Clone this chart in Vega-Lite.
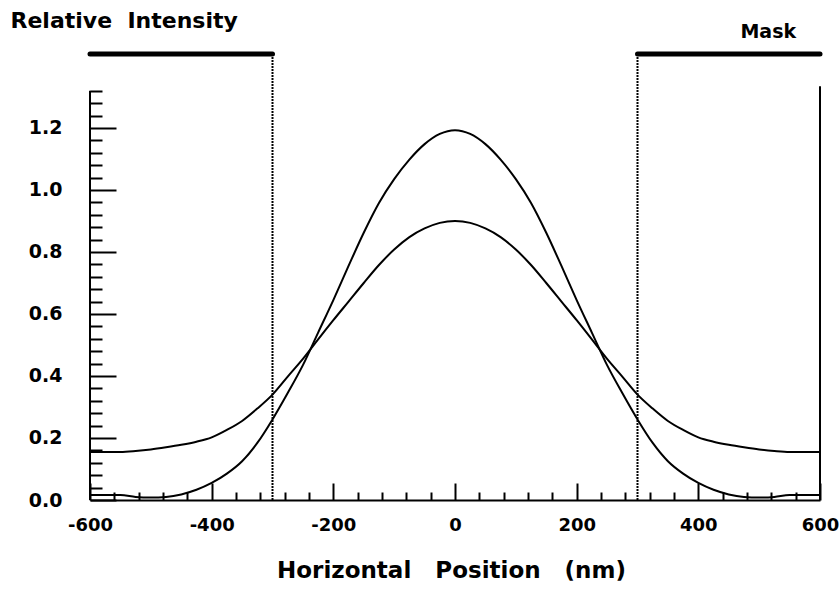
{
  "$schema": "https://vega.github.io/schema/vega-lite/v6.json",
  "width": 730,
  "height": 446,
  "autosize": {"type": "none"},
  "padding": {"left": 90, "top": 54, "right": 20, "bottom": 92},
  "background": "white",
  "config": {"view": {"stroke": null}},
  "layer": [
    {
      "data": {"values": [
        {"x": -600, "v": 0.155, "s": "A"}, {"x": -575, "v": 0.155, "s": "A"}, {"x": -550, "v": 0.155, "s": "A"}, {"x": -525, "v": 0.158, "s": "A"},
        {"x": -500, "v": 0.163, "s": "A"}, {"x": -475, "v": 0.170, "s": "A"}, {"x": -450, "v": 0.178, "s": "A"}, {"x": -425, "v": 0.188, "s": "A"},
        {"x": -400, "v": 0.202, "s": "A"}, {"x": -375, "v": 0.226, "s": "A"}, {"x": -350, "v": 0.255, "s": "A"}, {"x": -325, "v": 0.295, "s": "A"},
        {"x": -300, "v": 0.340, "s": "A"}, {"x": -275, "v": 0.398, "s": "A"}, {"x": -250, "v": 0.455, "s": "A"}, {"x": -225, "v": 0.518, "s": "A"},
        {"x": -200, "v": 0.580, "s": "A"}, {"x": -175, "v": 0.640, "s": "A"}, {"x": -150, "v": 0.700, "s": "A"}, {"x": -125, "v": 0.758, "s": "A"},
        {"x": -100, "v": 0.808, "s": "A"}, {"x": -75, "v": 0.848, "s": "A"}, {"x": -50, "v": 0.876, "s": "A"}, {"x": -25, "v": 0.894, "s": "A"},
        {"x": 0, "v": 0.900, "s": "A"},
        {"x": 25, "v": 0.894, "s": "A"}, {"x": 50, "v": 0.876, "s": "A"}, {"x": 75, "v": 0.848, "s": "A"}, {"x": 100, "v": 0.808, "s": "A"},
        {"x": 125, "v": 0.758, "s": "A"}, {"x": 150, "v": 0.700, "s": "A"}, {"x": 175, "v": 0.640, "s": "A"}, {"x": 200, "v": 0.580, "s": "A"},
        {"x": 225, "v": 0.518, "s": "A"}, {"x": 250, "v": 0.455, "s": "A"}, {"x": 275, "v": 0.398, "s": "A"}, {"x": 300, "v": 0.340, "s": "A"},
        {"x": 325, "v": 0.295, "s": "A"}, {"x": 350, "v": 0.255, "s": "A"}, {"x": 375, "v": 0.226, "s": "A"}, {"x": 400, "v": 0.202, "s": "A"},
        {"x": 425, "v": 0.188, "s": "A"}, {"x": 450, "v": 0.178, "s": "A"}, {"x": 475, "v": 0.170, "s": "A"}, {"x": 500, "v": 0.163, "s": "A"},
        {"x": 525, "v": 0.158, "s": "A"}, {"x": 550, "v": 0.155, "s": "A"}, {"x": 575, "v": 0.155, "s": "A"}, {"x": 600, "v": 0.155, "s": "A"},
        {"x": -600, "v": 0.016, "s": "B"}, {"x": -575, "v": 0.016, "s": "B"}, {"x": -550, "v": 0.016, "s": "B"}, {"x": -525, "v": 0.010, "s": "B"},
        {"x": -500, "v": 0.008, "s": "B"}, {"x": -475, "v": 0.010, "s": "B"}, {"x": -450, "v": 0.018, "s": "B"}, {"x": -425, "v": 0.033, "s": "B"},
        {"x": -400, "v": 0.055, "s": "B"}, {"x": -375, "v": 0.085, "s": "B"}, {"x": -350, "v": 0.125, "s": "B"}, {"x": -325, "v": 0.184, "s": "B"},
        {"x": -300, "v": 0.260, "s": "B"}, {"x": -275, "v": 0.345, "s": "B"}, {"x": -250, "v": 0.435, "s": "B"}, {"x": -225, "v": 0.540, "s": "B"},
        {"x": -200, "v": 0.645, "s": "B"}, {"x": -175, "v": 0.755, "s": "B"}, {"x": -150, "v": 0.862, "s": "B"}, {"x": -125, "v": 0.958, "s": "B"},
        {"x": -100, "v": 1.035, "s": "B"}, {"x": -75, "v": 1.098, "s": "B"}, {"x": -50, "v": 1.148, "s": "B"}, {"x": -25, "v": 1.181, "s": "B"},
        {"x": 0, "v": 1.193, "s": "B"},
        {"x": 25, "v": 1.181, "s": "B"}, {"x": 50, "v": 1.148, "s": "B"}, {"x": 75, "v": 1.098, "s": "B"}, {"x": 100, "v": 1.035, "s": "B"},
        {"x": 125, "v": 0.958, "s": "B"}, {"x": 150, "v": 0.862, "s": "B"}, {"x": 175, "v": 0.755, "s": "B"}, {"x": 200, "v": 0.645, "s": "B"},
        {"x": 225, "v": 0.540, "s": "B"}, {"x": 250, "v": 0.435, "s": "B"}, {"x": 275, "v": 0.345, "s": "B"}, {"x": 300, "v": 0.260, "s": "B"},
        {"x": 325, "v": 0.184, "s": "B"}, {"x": 350, "v": 0.125, "s": "B"}, {"x": 375, "v": 0.085, "s": "B"}, {"x": 400, "v": 0.055, "s": "B"},
        {"x": 425, "v": 0.033, "s": "B"}, {"x": 450, "v": 0.018, "s": "B"}, {"x": 475, "v": 0.010, "s": "B"}, {"x": 500, "v": 0.008, "s": "B"},
        {"x": 525, "v": 0.010, "s": "B"}, {"x": 550, "v": 0.016, "s": "B"}, {"x": 575, "v": 0.016, "s": "B"}, {"x": 600, "v": 0.016, "s": "B"}
      ]},
      "mark": {"type": "line", "color": "black", "strokeWidth": 2, "interpolate": "monotone"},
      "encoding": {
        "x": {
          "field": "x", "type": "quantitative",
          "scale": {"domain": [-600, 600], "nice": false, "zero": false},
          "axis": {
            "values": [-600,-560,-520,-480,-440,-400,-360,-320,-280,-240,-200,-160,-120,-80,-40,0,40,80,120,160,200,240,280,320,360,400,440,480,520,560,600],
            "tickCount": 200,
            "tickSize": {"condition": {"test": "datum.value % 200 === 0", "value": -17}, "value": -8},
            "tickWidth": 2, "tickColor": "black",
            "domainWidth": 2, "domainColor": "black",
            "grid": false,
            "labelExpr": "datum.value % 200 === 0 ? '' + datum.value : ''",
            "labelFont": "DejaVu Sans", "labelFontWeight": "bold", "labelFontSize": 18, "labelColor": "black",
            "labelPadding": 33, "labelFlush": false, "labelOverlap": false,
            "title": "Horizontal\u00a0\u00a0\u00a0Position\u00a0\u00a0\u00a0(nm)",
            "titleFont": "DejaVu Sans", "titleFontWeight": "bold", "titleFontSize": 23, "titleColor": "black",
            "titleBaseline": "alphabetic", "titleY": 77, "titleX": 361
          }
        },
        "y": {
          "field": "v", "type": "quantitative",
          "scale": {"domain": [0, 1.4387], "nice": false, "zero": false},
          "axis": {
            "values": [0,0.04,0.08,0.12,0.16,0.2,0.24,0.28,0.32,0.36,0.4,0.44,0.48,0.52,0.56,0.6,0.64,0.68,0.72,0.76,0.8,0.84,0.88,0.92,0.96,1.0,1.04,1.08,1.12,1.16,1.2,1.24,1.28,1.32],
            "tickCount": 200,
            "tickSize": {"condition": {"test": "abs(datum.value*5 - round(datum.value*5)) < 0.01", "value": -26}, "value": -12},
            "tickWidth": 2, "tickColor": "black",
            "domain": false, "grid": false,
            "labelExpr": "abs(datum.value*5 - round(datum.value*5)) < 0.01 ? format(datum.value, '.1f') : ''",
            "labelFont": "DejaVu Sans", "labelFontWeight": "bold", "labelFontSize": 19, "labelColor": "black",
            "labelPadding": 54, "labelFlush": false, "labelOverlap": false,
            "title": "Relative\u00a0\u00a0Intensity",
            "titleFont": "DejaVu Sans", "titleFontWeight": "bold", "titleFontSize": 22, "titleColor": "black",
            "titleAngle": 0, "titleAlign": "left", "titleBaseline": "alphabetic", "titleX": -80, "titleY": -27
          }
        },
        "detail": {"field": "s"}
      }
    },
    {
      "data": {"values": [{"x": -300, "y0": 0, "y1": 1.4387}, {"x": 300, "y0": 0, "y1": 1.4387}]},
      "mark": {"type": "rule", "color": "black", "strokeWidth": 2, "strokeDash": [2, 1]},
      "encoding": {
        "x": {"field": "x", "type": "quantitative"},
        "y": {"field": "y0", "type": "quantitative"},
        "y2": {"field": "y1"}
      }
    },
    {
      "data": {"values": [{"x": -600, "x2": -300, "y": 1.4387}, {"x": 300, "x2": 600, "y": 1.4387}]},
      "mark": {"type": "rule", "color": "black", "strokeWidth": 5, "strokeCap": "round"},
      "encoding": {
        "x": {"field": "x", "type": "quantitative"},
        "x2": {"field": "x2"},
        "y": {"field": "y", "type": "quantitative"}
      }
    },
    {
      "data": {"values": [{"x": -600, "y0": 0, "y1": 1.32}, {"x": 600, "y0": 0, "y1": 1.335}]},
      "mark": {"type": "rule", "color": "black", "strokeWidth": 2},
      "encoding": {
        "x": {"field": "x", "type": "quantitative"},
        "y": {"field": "y0", "type": "quantitative"},
        "y2": {"field": "y1"}
      }
    },
    {
      "data": {"values": [{"x": 515, "y": 1.49, "t": "Mask"}]},
      "mark": {"type": "text", "color": "black", "font": "DejaVu Sans", "fontWeight": "bold", "fontSize": 19, "align": "center", "baseline": "alphabetic"},
      "encoding": {
        "x": {"field": "x", "type": "quantitative"},
        "y": {"field": "y", "type": "quantitative"},
        "text": {"field": "t"}
      }
    }
  ]
}
